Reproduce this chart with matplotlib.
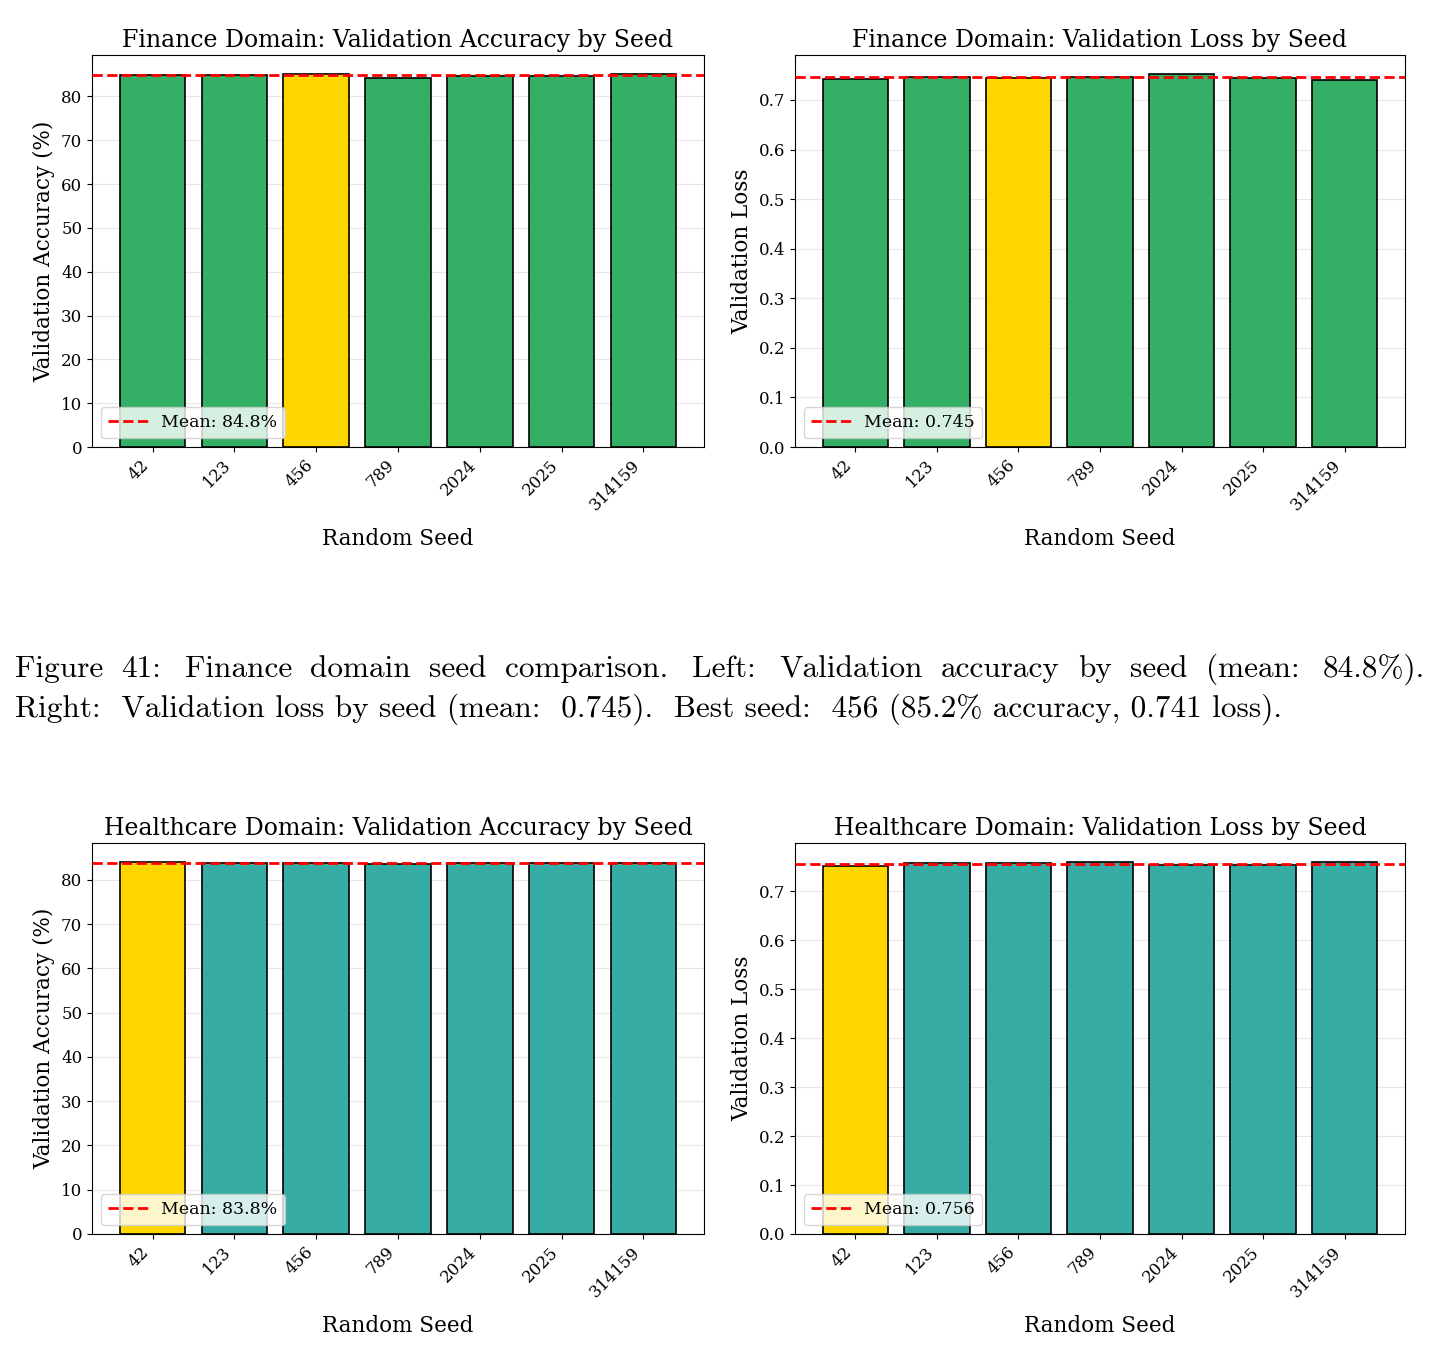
import matplotlib
matplotlib.use("Agg")
import matplotlib.pyplot as plt
import numpy as np

seeds = ['42', '123', '456', '789', '2024', '2025', '314159']

fin_acc = [84.9, 84.8, 85.2, 84.3, 84.6, 84.7, 85.1]
fin_loss = [0.742, 0.747, 0.744, 0.746, 0.753, 0.744, 0.741]
fin_best = '456'

hc_acc = [84.1, 83.8, 83.8, 83.6, 83.8, 83.7, 83.8]
hc_loss = [0.752, 0.758, 0.757, 0.760, 0.753, 0.753, 0.760]
hc_best = '42'

caption_1 = "Figure 41: Finance domain seed comparison. Left: Validation accuracy by seed (mean: 84.8%)."
caption_2 = "Right:  Validation loss by seed (mean:  0.745).  Best seed:  456 (85.2% accuracy, 0.741 loss)."

plt.rcParams['font.family'] = 'DejaVu Serif'

GREEN = '#33b066'
TEAL = '#36aca4'
GOLD = '#ffd700'
CAP_FONT = ['cmr10', 'DejaVu Serif']


def seed_panel(ax, vals, best, color, title, ylabel, fmt):
    x = np.arange(len(seeds))
    colors = [GOLD if s == best else color for s in seeds]
    ax.bar(x, vals, width=0.8, color=colors, edgecolor='black', linewidth=1.2, zorder=2)
    m = np.mean(vals)
    ax.axhline(m, color='red', linestyle='--', linewidth=2, label='Mean: ' + fmt.format(m), zorder=3)
    ax.set_xticks(x)
    ax.set_xticklabels(seeds, rotation=45, ha='right', fontsize=12)
    ax.tick_params(axis='y', labelsize=12)
    ax.set_title(title, fontsize=17)
    ax.set_xlabel('Random Seed', fontsize=15.5, labelpad=10)
    ax.set_ylabel(ylabel, fontsize=15.5)
    ax.grid(axis='y', alpha=0.3, zorder=0)
    ax.set_axisbelow(True)
    ax.legend(loc='lower left', fontsize=12.5, handlelength=2.3)


fig = plt.figure(figsize=(14.4, 13.63), dpi=100)

W, H = 1440, 1363
def box(x0, y0, x1, y1):
    return [x0 / W, 1 - y1 / H, (x1 - x0) / W, (y1 - y0) / H]

ax1 = fig.add_axes(box(92, 55, 704, 447))
ax2 = fig.add_axes(box(795, 55, 1405, 447))
ax3 = fig.add_axes(box(92, 843, 704, 1234))
ax4 = fig.add_axes(box(795, 843, 1405, 1234))

seed_panel(ax1, fin_acc, fin_best, GREEN, 'Finance Domain: Validation Accuracy by Seed',
           'Validation Accuracy (%)', '{:.1f}%')
seed_panel(ax2, fin_loss, fin_best, GREEN, 'Finance Domain: Validation Loss by Seed',
           'Validation Loss', '{:.3f}')
seed_panel(ax3, hc_acc, hc_best, TEAL, 'Healthcare Domain: Validation Accuracy by Seed',
           'Validation Accuracy (%)', '{:.1f}%')
seed_panel(ax4, hc_loss, hc_best, TEAL, 'Healthcare Domain: Validation Loss by Seed',
           'Validation Loss', '{:.3f}')

# caption between the two rows; first line justified like the LaTeX page
cap_size = 22.5
renderer = fig.canvas.get_renderer()
words = caption_1.split(' ')
widths = []
for w in words:
    t = fig.text(0, 0, w, fontsize=cap_size, family=CAP_FONT)
    widths.append(t.get_window_extent(renderer).width)
    t.remove()
x0, x1 = 15, 1425
# a bit more glue after colons and full stops, as TeX does
weights = [1.3 if w[-1] in ':.' else 1.0 for w in words[:-1]]
unit = (x1 - x0 - sum(widths)) / sum(weights)
xpos = x0
for i, (w, wd) in enumerate(zip(words, widths)):
    fig.text(xpos / W, 1 - 677 / H, w, fontsize=cap_size, family=CAP_FONT, va='baseline')
    if i < len(weights):
        xpos += wd + unit * weights[i]

fig.text(15 / W, 1 - 717 / H, caption_2, fontsize=cap_size, family=CAP_FONT, va='baseline')

fig.savefig('out.png', dpi=100)
